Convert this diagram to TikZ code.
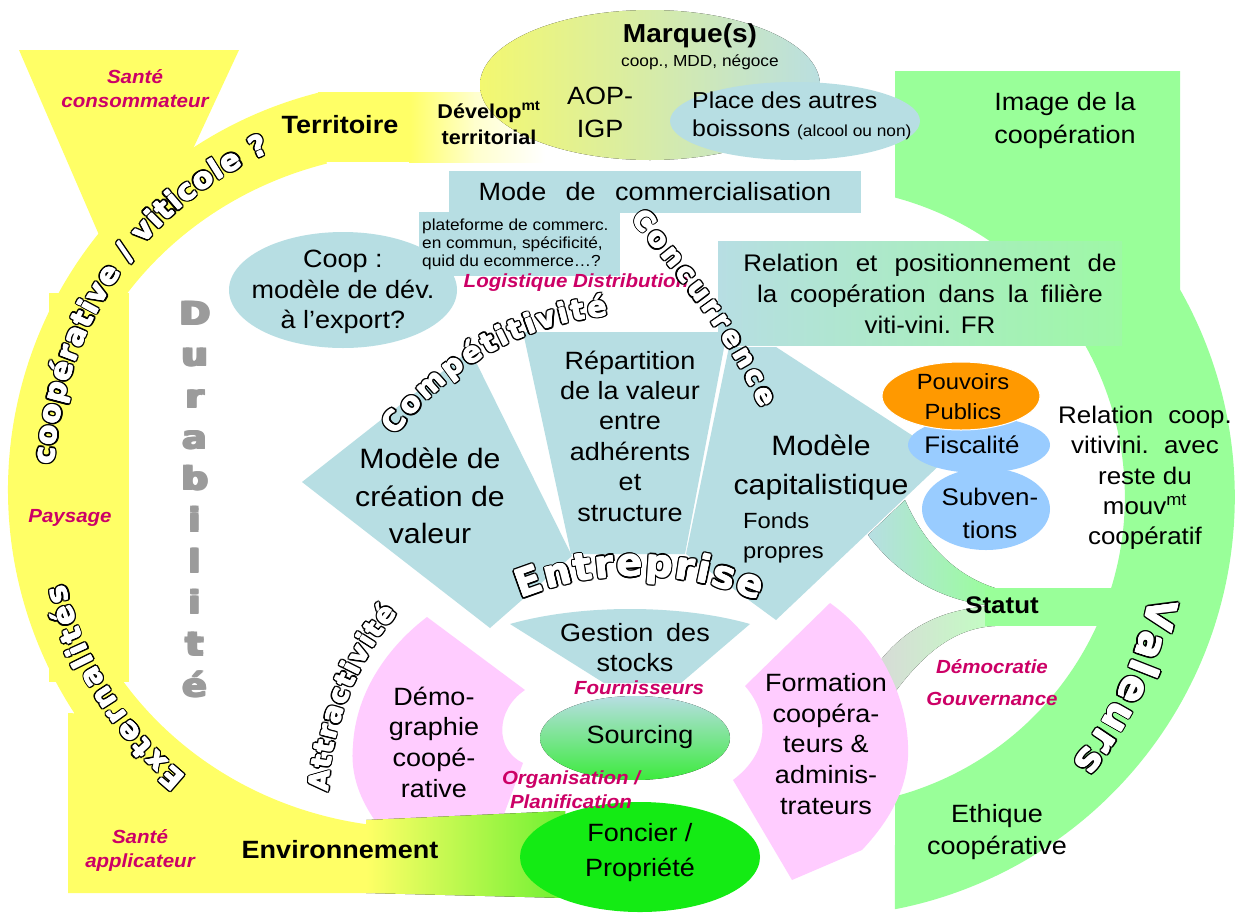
\documentclass[tikz,border=0pt]{standalone}
\usepackage{fontspec}
\setmainfont{Liberation Sans}
\newfontfamily\wafont{DejaVu Sans}
\usetikzlibrary{decorations.text}
\definecolor{yel}{RGB}{255,255,102}
\definecolor{palyel}{RGB}{255,255,205}
\definecolor{tl}{RGB}{183,222,227}
\definecolor{grn}{RGB}{153,255,153}
\definecolor{relg}{RGB}{158,248,165}
\definecolor{pnk}{RGB}{255,204,255}
\definecolor{org}{RGB}{255,153,0}
\definecolor{blu}{RGB}{153,204,255}
\definecolor{mag}{RGB}{204,0,102}
\definecolor{durg}{RGB}{155,155,155}
\definecolor{fonc}{RGB}{20,235,20}
\definecolor{bandg}{RGB}{110,240,50}
\definecolor{marqy}{RGB}{243,248,112}
\definecolor{marqt}{RGB}{186,223,224}
\definecolor{sourcg}{RGB}{60,235,60}
\newcommand\wordart[3]{%
  \foreach \waang in {0,30,...,330}{%
    \path[shift={(\waang:1.9)}, decorate, decoration={text along path,
      text align=fit to path, text color=black,
      text={|\wafont\bfseries\fontsize{#1}{#1}\selectfont|#2}}] #3;}%
  \foreach \waang in {0,90,180,270}{%
    \path[shift={(\waang:0.5)}, decorate, decoration={text along path,
      text align=fit to path, text color=white,
      text={|\wafont\bfseries\fontsize{#1}{#1}\selectfont|#2}}] #3;}%
  \path[decorate, decoration={text along path, text align=fit to path,
      text color=white, text={|\wafont\bfseries\fontsize{#1}{#1}\selectfont|#2}}] #3;}
\begin{document}
\begin{tikzpicture}[x=1pt,y=-1pt,
  lbl/.style={align=center, inner sep=0pt, xscale=1.08},
  mg/.style={lbl, text=mag, font=\bfseries\itshape\fontsize{19}{24}\selectfont},
  bd/.style={lbl, font=\bfseries\fontsize{25}{30}\selectfont},
  dur/.style={inner sep=0pt, text=durg, font=\wafont\bfseries\fontsize{32}{32}\selectfont, xscale=1.15, anchor=base}]
\useasboundingbox (0,0) rectangle (1242,919);
\fill[white] (0,0) rectangle (1242,919);

% ---------- yellow band (left)
\fill[yel] (320.3,92.2) arc[start angle=256, end angle=147, x radius=412, y radius=410]
  -- (68,713) -- (68,893) -- (372,893) -- (372,825)
  arc[start angle=97.66, end angle=255, x radius=360, y radius=338] -- cycle;
\fill[yel] (49,293) rectangle (129,682);
\fill[yel] (19,50) -- (239,50) -- (125,295) -- cycle;
\fill[yel] (318,92) rectangle (410,162);
\fill[left color=yel, right color=palyel] (409,92) rectangle (475,162);
\fill[left color=palyel, right color=white] (474,92) rectangle (545,162);

% ---------- green band (right)
\fill[grn] (895,71) -- (1180,71) -- (1180,289.5)
  arc[start angle=-29.6, end angle=79, radius=420] -- (895,796.4)
  arc[start angle=75, end angle=-75, radius=310] -- cycle;

% ---------- top ellipses
\fill[left color=marqy, right color=marqt] (650,85) ellipse [x radius=170, y radius=75];
\fill[tl] (795,121) ellipse [x radius=125, y radius=39];

% ---------- boxes
\fill[tl] (449,171) rectangle (861,213);
\fill[tl] (419,212) rectangle (620,276);
\fill[tl] (343,290) ellipse [x radius=114, y radius=58];
\fill[left color=tl, right color=relg] (718,241) rectangle (1122,345);

% ---------- fan
\fill[tl] (302,482) -- (470,350) -- (572,556) -- (490,628) -- cycle;
\fill[tl] (523,332) -- (727,332) -- (685,554) -- (571,554) -- cycle;
\fill[left color=tl, right color=grn] (905,500) .. controls (925,545) and (955,575) .. (995,588)
  -- (995,606) .. controls (945,602) and (900,578) .. (868,535) -- cycle;
\fill[left color=gray!30, right color=grn!60!white] (995,606) .. controls (940,608) and (900,630) .. (872,672)
  -- (895,692) .. controls (925,652) and (955,628) .. (995,626) -- cycle;
\fill[grn] (985,588) rectangle (1115,626);
\fill[tl] (729,347) -- (776,347) -- (947,458) -- (776,620) -- (686,554) -- cycle;
\fill[tl] (510,624) .. controls (580,604) and (680,604) .. (750,624) -- (681,683) -- (604,683) -- cycle;

% ---------- pink petals
\fill[pnk] (427,617) -- (525,690) .. controls (495,710) and (495,750) .. (523,763) -- (500,825)
  -- (378,825) .. controls (360,800) and (350,775) .. (353,745) .. controls (356,690) and (390,645) .. cycle;
\fill[pnk] (830,603) -- (745,686) .. controls (770,715) and (770,752) .. (733,780) -- (792,880)
  -- (862,850) .. controls (895,815) and (910,780) .. (908,745) .. controls (906,690) and (875,635) .. cycle;

% ---------- bottom band and ellipses
\fill[left color=yel, right color=bandg] (366,820) -- (565,811) -- (565,898) -- (366,893) -- cycle;
\fill[fonc] (640,857) ellipse [x radius=120, y radius=55];
\fill[top color=tl, bottom color=sourcg] (635,738) ellipse [x radius=95, y radius=42];
\fill[blu] (979,445) ellipse [x radius=71, y radius=28];
\fill[blu] (986,509) ellipse [x radius=64, y radius=41];
\draw[white, line width=1pt, fill=org] (961,396) ellipse [x radius=79, y radius=34];

% ---------- texts
\node[mg] (santeC) at (135,89) {Santé\\consommateur};
\node[bd] (terr) at (340,125) {Territoire};
\node[lbl, font=\bfseries\fontsize{20}{26}\selectfont] (devt) at (489,123) {Dévelop\textsuperscript{mt}\\territorial};
\node[lbl, font=\bfseries\fontsize{26}{30}\selectfont] (marq) at (690,36) {Marque(s)};
\node[lbl, font=\fontsize{16}{20}\selectfont] (marqs) at (700,62) {coop., MDD, négoce};
\node[lbl, font=\fontsize{25}{33}\selectfont] (aop) at (600,112) {AOP-\\IGP};
\node[lbl, align=left, anchor=west, font=\fontsize{23}{28}\selectfont] (place) at (692,116) {Place des autres\\boissons {\fontsize{16}{16}\selectfont(alcool ou non)}};
\node[lbl, font=\fontsize{25}{33}\selectfont] (img) at (1065,121) {Image de la\\coopération};
\node[lbl, font=\fontsize{25}{30}\selectfont] (mode) at (655,192) {Mode\hspace{18pt}de\hspace{18pt}commercialisation};
\node[lbl, align=left, anchor=west, font=\fontsize{16}{18}\selectfont] (plat) at (422,244) {plateforme de commerc.\\en commun, spécificité,\\quid du ecommerce…?};
\node[mg] (logi) at (576,283) {Logistique Distribution};
\node[lbl, font=\fontsize{25}{30.5}\selectfont] (coopq) at (343,292) {Coop :\\modèle de dév.\\à l’export?};
\node[lbl, font=\fontsize{24}{31}\selectfont] (rel) at (930,294) {Relation\hspace{16pt}et\hspace{16pt}positionnement\hspace{16pt}de\\la\hspace{12pt}coopération\hspace{12pt}dans\hspace{12pt}la\hspace{12pt}filière\\viti-vini.\hspace{9pt}FR};
\node[lbl, font=\fontsize{28}{37.5}\selectfont] (mcv) at (430,496) {Modèle de\\création de\\valeur};
\node[lbl, font=\fontsize{25}{30.4}\selectfont] (rep) at (630,436) {Répartition\\de la valeur\\entre\\adhérents\\et\\structure};
\node[lbl, font=\fontsize{28}{39}\selectfont] (mcap) at (821,468) {Modèle\\capitalistique};
\node[lbl, align=left, anchor=west, font=\fontsize{22}{30}\selectfont] (fonds) at (743,538) {Fonds\\propres};
\node[lbl, font=\fontsize{25}{30}\selectfont] (gest) at (635,648) {Gestion\hspace{12pt}des\\stocks};
\node[mg] (four) at (639,688) {Fournisseurs};
\node[lbl, font=\fontsize{25}{30}\selectfont] (sourc) at (640,737) {Sourcing};
\node[mg] (orga) at (571,790) {Organisation /\\Planification};
\node[lbl, font=\fontsize{25}{35}\selectfont] (fonc) at (640,853) {Foncier /\\Propriété};
\node[lbl, font=\fontsize{25}{30.7}\selectfont] (demo) at (434,742) {Démo-\\graphie\\coopé-\\rative};
\node[lbl, font=\fontsize{25}{30.75}\selectfont] (form) at (826,744) {Formation\\coopéra-\\teurs \&\\adminis-\\trateurs};
\node[lbl, font=\fontsize{22}{30}\selectfont] (pouv) at (963,397) {Pouvoirs\\Publics};
\node[lbl, font=\fontsize{24}{30}\selectfont] (fisc) at (972,445) {Fiscalité};
\node[lbl, font=\fontsize{24}{33}\selectfont] (subv) at (990,513) {Subven-\\tions};
\node[lbl, font=\fontsize{24}{30.25}\selectfont] (relc) at (1145,478) {Relation\hspace{14pt}coop.\\vitivini.\hspace{14pt}avec\\reste du\\mouv\textsuperscript{mt}\\coopératif};
\node[lbl, font=\bfseries\fontsize{24}{30}\selectfont] (stat) at (1002,605) {Statut};
\node[mg, font=\bfseries\itshape\fontsize{19}{32}\selectfont] (democ) at (992,683) {Démocratie\\Gouvernance};
\node[lbl, font=\fontsize{25}{32}\selectfont] (ethi) at (997,832) {Ethique\\coopérative};
\node[mg] (pays) at (70,518) {Paysage};
\node[mg] (santeA) at (140,850) {Santé\\applicateur};
\node[bd] (envi) at (340,850) {Environnement};

% Durabilite: heavy grey letters (copies give the black-weight look)
\foreach \ch [count=\i] in {D,u,r,a,b,i,l,i,t,é} {%
  \foreach \dx/\dy [count=\k] in {-1.3/-0.6,1.3/-0.6,-1.3/0.6,1.3/0.6,0/0}
    {\node[dur] (dur\i-\k) at ({195+\dx},{325+(\i-1)*41.3+\dy}) {\ch};}}

% ---------- curved outlined texts
\wordart{29}{coopérative / viticole ?}{(53.85,464.6) arc[start angle=184, end angle=248, x radius=347, y radius=364]}
\wordart{29}{Externalités}{(186.4,776.8) arc[start angle=128, end angle=165, x radius=347, y radius=364]}
\wordart{40}{Valeurs}{(1149.9,596.7) arc[start angle=10.5, end angle=39.5, radius=366]}
\wordart{28}{Compétitivité}{(395.6,435.8) arc[start angle=217, end angle=264, radius=306]}
\wordart{27}{Concurrence}{(631,219) .. controls (680,280) and (725,330) .. (761,408)}
\wordart{38}{Entreprise}{(520.9,598.6) arc[start angle=248, end angle=293, radius=310]}
\wordart{27}{Attractivité}{(328.3,792) arc[start angle=182.5, end angle=220, radius=298]}
\end{tikzpicture}
\end{document}
